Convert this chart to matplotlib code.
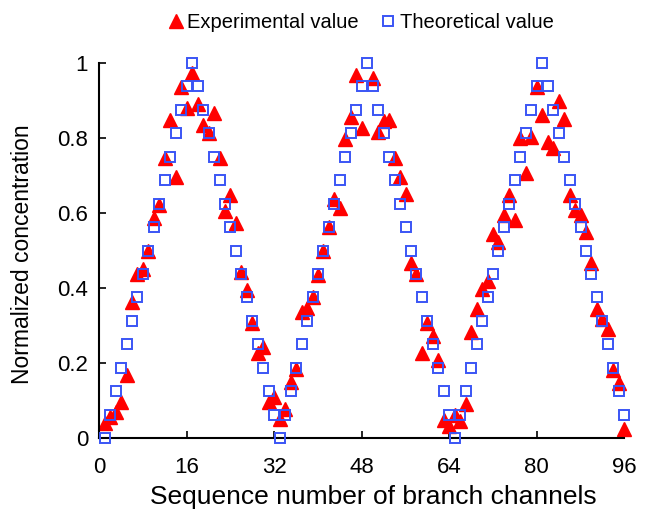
import numpy as np
import matplotlib
matplotlib.use("Agg")
import matplotlib.pyplot as plt

plt.rcParams['font.family'] = ['Liberation Sans', 'DejaVu Sans']

channels = list(range(1, 97))

theoretical = [
    0.0, 0.0625, 0.125, 0.1875, 0.25, 0.3125, 0.375, 0.4375, 0.5, 0.5625, 0.625, 0.6875, 0.75, 0.8125, 0.875, 0.9375,
    1.0, 0.9375, 0.875, 0.8125, 0.75, 0.6875, 0.625, 0.5625, 0.5, 0.4375, 0.375, 0.3125, 0.25, 0.1875, 0.125, 0.0625,
    0.0, 0.0625, 0.125, 0.1875, 0.25, 0.3125, 0.375, 0.4375, 0.5, 0.5625, 0.625, 0.6875, 0.75, 0.8125, 0.875, 0.9375,
    1.0, 0.9375, 0.875, 0.8125, 0.75, 0.6875, 0.625, 0.5625, 0.5, 0.4375, 0.375, 0.3125, 0.25, 0.1875, 0.125, 0.0625,
    0.0, 0.0625, 0.125, 0.1875, 0.25, 0.3125, 0.375, 0.4375, 0.5, 0.5625, 0.625, 0.6875, 0.75, 0.8125, 0.875, 0.9375,
    1.0, 0.9375, 0.875, 0.8125, 0.75, 0.6875, 0.625, 0.5625, 0.5, 0.4375, 0.375, 0.3125, 0.25, 0.1875, 0.125, 0.0625,
]

experimental = [
    0.040, 0.055, 0.070, 0.095, 0.168, 0.363, 0.438, 0.452, 0.500, 0.586, 0.622, 0.746, 0.848, 0.697, 0.937, 0.879,
    0.973, 0.890, 0.835, 0.813, 0.868, 0.746, 0.605, 0.648, 0.573, 0.443, 0.395, 0.306, 0.228, 0.243, 0.095, 0.110,
    0.052, 0.077, 0.150, 0.183, 0.337, 0.348, 0.377, 0.435, 0.500, 0.562, 0.637, 0.613, 0.797, 0.857, 0.968, 0.828,
    np.nan, 0.959, 0.817, 0.845, 0.848, 0.746, 0.697, 0.650, 0.468, 0.437, 0.228, 0.308, 0.272, 0.208, 0.048, 0.032,
    0.062, 0.045, 0.092, 0.283, 0.343, 0.397, 0.420, 0.543, 0.523, 0.595, 0.648, 0.581, 0.800, 0.708, 0.802, 0.937,
    0.861, 0.790, 0.773, 0.900, 0.850, 0.648, 0.608, 0.595, 0.550, 0.466, 0.343, 0.318, 0.292, 0.181, 0.146, 0.024,
]

xticks = [0, 16, 32, 48, 64, 80, 96]
yticks = [0, 0.2, 0.4, 0.6, 0.8, 1.0]
yticklabels = ['0', '0.2', '0.4', '0.6', '0.8', '1']

fig = plt.figure(figsize=(6.5, 5.15), dpi=100)
ax = fig.add_axes([99.2 / 650, 77 / 515, 525.1 / 650, 375 / 515])

ax.plot(channels, experimental, linestyle='none', marker='^', markersize=9.5,
        color='#ff0000', markeredgecolor='#ff0000', label='Experimental value',
        clip_on=False, zorder=2)
ax.plot(channels, theoretical, linestyle='none', marker='s', markersize=7,
        markerfacecolor='none', markeredgecolor='#3a55f5', markeredgewidth=1.4,
        label='Theoretical value', clip_on=False, zorder=3)

ax.set_xlim(0, 96)
ax.set_ylim(0, 1)
ax.set_xticks(xticks)
ax.set_yticks(yticks)
ax.set_yticklabels(yticklabels)
ax.tick_params(direction='in', length=5, width=1.2, labelsize=16, colors='black')
ax.tick_params(axis='x', pad=14)
ax.tick_params(axis='y', pad=8)

for s in ['top', 'right']:
    ax.spines[s].set_visible(False)
for s in ['left', 'bottom']:
    ax.spines[s].set_linewidth(1.5)

ax.set_xlabel('Sequence number of branch channels', fontsize=19)
ax.xaxis.set_label_coords(0.522, -0.125)
ax.set_ylabel('Normalized concentration', fontsize=16.5)
ax.yaxis.set_label_coords(-0.124, 0.49)

leg = fig.legend(loc='center', bbox_to_anchor=(0.553, 0.957), ncol=2, frameon=False,
                 fontsize=14.5, handletextpad=0.05, columnspacing=1.0, handlelength=1.0)

fig.savefig('out.png', dpi=100)
